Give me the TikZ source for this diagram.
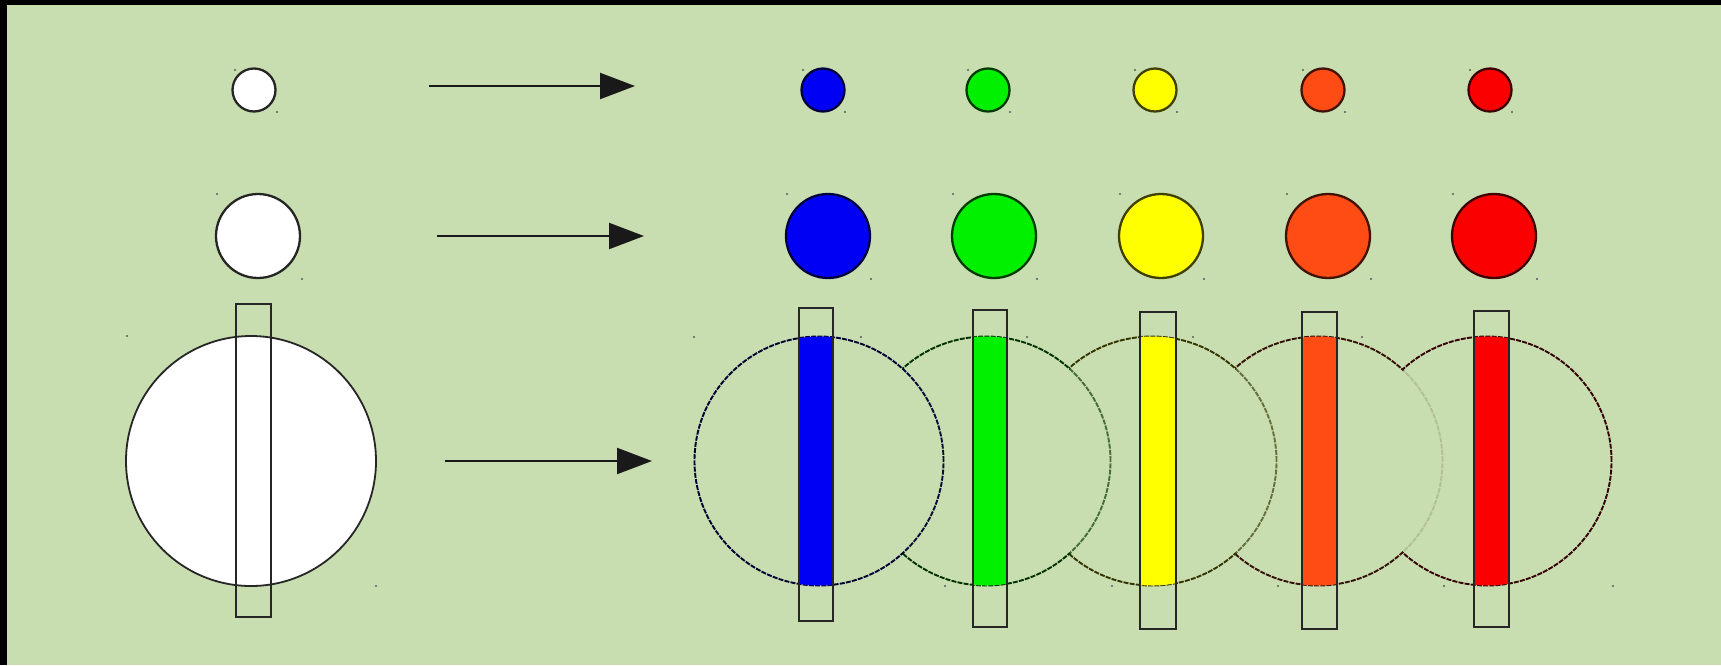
\documentclass[tikz,border=0pt]{standalone}
\usetikzlibrary{arrows.meta}

\definecolor{bg}{RGB}{201,222,176}
\definecolor{cblue}{RGB}{0,0,245}
\definecolor{cgreen}{RGB}{0,240,0}
\definecolor{cyellow}{RGB}{255,255,0}
\definecolor{corange}{RGB}{255,75,20}
\definecolor{cred}{RGB}{250,0,0}

\tikzset{
  disc/.style={circle, inner sep=0pt, line width=2.3pt},
  ring/.style={line width=1.9pt, dash pattern=on 5pt off 1.2pt},
  handle/.style={circle, fill=black!65, inner sep=0pt, minimum size=2.4pt},
  bar/.style={draw=black!85, line width=1.8pt},
  link/.style={line width=2.2pt, draw=black!90, -{Triangle[length=35pt,width=26pt]}}
}

\begin{document}
\begin{tikzpicture}[x=1pt,y=-1pt]
  % frame and background
  \fill[black] (0,0) rectangle (1721,665);
  \fill[bg] (7,5) rectangle (1721,665);
  \useasboundingbox (0,0) rectangle (1721,665);

  % ---- source circles (white) ----
  \node[disc, draw=black!85, fill=white, minimum size=43pt] (ws) at (254,90) {};
  \node[disc, draw=black!85, fill=white, minimum size=84pt] (wm) at (258,236) {};
  \node[handle] at (235,70) {};  \node[handle] at (277,112) {};
  \node[handle] at (217,194) {}; \node[handle] at (302,279) {};

  \draw[line width=1.8pt, draw=black!85, fill=white] (251,461) circle[radius=125pt];
  \node[handle] at (127,336) {}; \node[handle] at (376,586) {};
  \draw[bar] (236,304) rectangle (271,617);

  % ---- arrows ----
  \coordinate (a1s) at (429,86);  \coordinate (a1e) at (635,86);
  \coordinate (a2s) at (437,236); \coordinate (a2e) at (644,236);
  \coordinate (a3s) at (445,461); \coordinate (a3e) at (652,461);
  \draw[link] (a1s) -- (a1e);
  \draw[link] (a2s) -- (a2e);
  \draw[link] (a3s) -- (a3e);

  % ---- coloured small and medium circles ----
  \foreach \c/\xs/\xm [count=\i] in {cblue/823/828, cgreen/988/994, cyellow/1155/1161, corange/1323/1328, cred/1490/1494} {
    \node[disc, draw=\c!25!black, fill=\c, minimum size=43pt] (s\i) at (\xs,90) {};
    \node[disc, draw=\c!25!black, fill=\c, minimum size=84pt] (m\i) at (\xm,236) {};
    \node[handle] at (\xs-20,70) {};  \node[handle] at (\xs+22,112) {};
    \node[handle] at (\xm-41,194) {}; \node[handle] at (\xm+43,279) {};
  }

  % ---- large overlapping circles, back to front ----
  \foreach \c/\x in {cred/1487, corange/1318, cyellow/1152, cgreen/986, cblue/819} {
    \draw[ring, draw=\c!20!black, fill=bg] (\x,461) circle[radius=124.5pt];
  }
  % outline parts lying inside the right-hand neighbour are fainter
  \foreach \x/\f in {986/0.05, 1152/0.35, 1318/0.35, 1487/0.85} {
    \begin{scope}
      \clip (\x,461) circle[radius=123pt];
      \fill[bg, opacity=\f] (\x-130,330) rectangle (\x+130,592);
    \end{scope}
  }
  \foreach \x in {819, 986, 1152, 1318, 1487} {
    \node[handle] at (\x-125,337) {}; \node[handle] at (\x+126,586) {};
  }

  % ---- coloured strips and their frames ----
  \foreach \c/\x/\l/\r/\t/\b in {cblue/819/799/833/308/621, cgreen/986/973/1007/310/627,
      cyellow/1152/1140/1176/312/629, corange/1318/1302/1337/312/629, cred/1487/1474/1509/311/627} {
    \begin{scope}
      \clip (\x,461) circle[radius=124.5pt];
      \fill[\c] (\l,\t) rectangle (\r,\b);
    \end{scope}
    \draw[bar] (\l,\t) rectangle (\r,\b);
  }
\end{tikzpicture}
\end{document}
